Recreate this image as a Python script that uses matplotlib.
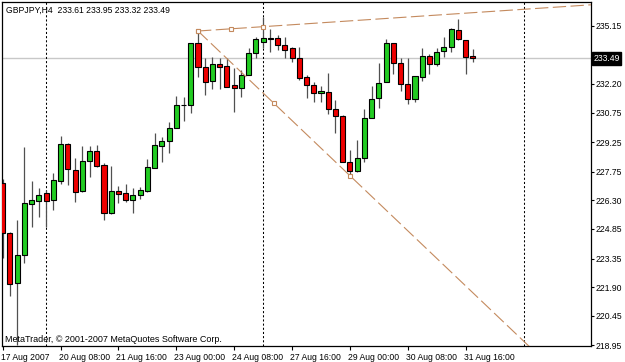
import matplotlib
matplotlib.use("Agg")
import matplotlib.pyplot as plt
import matplotlib.transforms as mtransforms

# GBPJPY H4 bars, 17 Aug 2007 00:00 .. 31 Aug 2007 20:00 (one entry per bar)
opens = [227.20, 224.63, 222.10, 223.53, 226.10, 226.27, 226.68, 226.32, 227.28, 229.14,
         227.84, 226.78, 228.30, 228.80, 228.09, 225.65, 226.79, 226.66, 226.32, 226.57,
         226.78, 227.93, 229.07, 229.32, 229.95, 231.13, 231.13, 234.26, 233.04, 232.36,
         233.20, 233.11, 232.15, 232.01, 232.65, 233.75, 234.34, 234.49, 234.51, 234.17,
         234.00, 233.49, 232.54, 232.15, 231.73, 231.78, 230.92, 230.59, 228.22, 227.79,
         228.45, 230.46, 231.47, 232.28, 234.26, 233.25, 232.18, 231.42, 232.54, 233.62,
         233.20, 233.87, 234.06, 234.93, 234.43, 233.61]
highs = [227.37, 224.70, 225.31, 229.02, 227.30, 226.94, 226.83, 227.67, 229.58, 229.22,
         228.43, 229.06, 229.06, 229.11, 228.18, 228.04, 227.03, 227.13, 226.91, 226.99,
         228.38, 229.70, 229.53, 230.27, 231.59, 231.55, 234.26, 234.88, 233.50, 233.55,
         233.53, 233.50, 232.99, 232.91, 234.01, 234.59, 235.57, 234.96, 234.68, 234.59,
         234.09, 234.09, 232.65, 232.31, 232.11, 232.74, 231.39, 230.63, 228.85, 229.36,
         230.93, 232.11, 233.25, 234.48, 234.26, 233.50, 233.50, 232.60, 234.04, 233.70,
         234.04, 234.59, 235.02, 235.49, 234.43, 233.95]
lows = [223.37, 221.47, 218.98, 223.14, 224.94, 225.44, 224.94, 225.81, 227.12, 227.08,
        226.23, 226.74, 227.50, 227.99, 225.31, 225.61, 226.15, 226.23, 225.68, 226.36,
        226.71, 227.93, 228.26, 228.69, 229.95, 230.32, 230.71, 232.57, 231.64, 231.94,
        231.94, 232.03, 230.79, 231.55, 232.65, 233.50, 234.01, 233.84, 233.92, 233.50,
        233.29, 232.40, 231.49, 231.27, 231.27, 230.66, 229.70, 228.23, 227.42, 227.74,
        228.22, 230.46, 231.00, 232.28, 232.69, 231.84, 231.17, 231.27, 232.35, 232.69,
        233.12, 233.58, 233.83, 234.43, 232.69, 233.32]
closes = [224.63, 222.07, 223.53, 226.18, 226.31, 226.56, 226.27, 227.33, 229.14, 227.88,
          226.74, 228.30, 228.80, 228.06, 225.65, 226.79, 226.64, 226.32, 226.56, 226.81,
          227.98, 229.11, 229.31, 229.95, 231.13, 231.12, 234.26, 233.04, 232.31, 233.20,
          233.07, 232.06, 232.01, 232.65, 233.75, 234.48, 234.51, 234.52, 234.15, 233.92,
          233.49, 232.49, 232.15, 231.73, 231.84, 230.92, 230.59, 228.23, 227.79, 228.47,
          230.46, 231.42, 232.23, 234.26, 233.25, 232.18, 231.42, 232.60, 233.62, 233.20,
          233.83, 234.06, 234.97, 234.48, 233.58, 233.49]

tick_bars = [0, 8, 16, 24, 32, 40, 48, 56, 64]
tick_labels = ["17 Aug 2007", "20 Aug 08:00", "21 Aug 16:00", "23 Aug 00:00",
               "24 Aug 08:00", "27 Aug 16:00", "29 Aug 00:00", "30 Aug 08:00",
               "31 Aug 16:00"]
price_ticks = [235.15, 232.20, 230.75, 229.25, 227.75, 226.30, 224.85,
               223.35, 221.90, 220.45, 218.95]
separators = [6, 36, 72]          # week separators (bar index)
last_price = 233.49
symbol_text = "GBPJPY,H4  233.61 233.95 233.32 233.49"
# trend lines, anchors as (bar, price)
upper_line = [(27, 234.88), (36, 235.10)]
lower_line = [(27, 234.88), (48, 227.55)]

XMIN, XMAX = -0.1, 81.33
YMIN, YMAX = 218.92, 236.35

plt.rcParams['font.family'] = ['Liberation Sans', 'DejaVu Sans']
FS = 6.2
LINE_COL = '#c48a5e'

fig = plt.figure(figsize=(6.25, 3.62), dpi=100)
ax = fig.add_axes([2 / 625, 16 / 362, 589 / 625, 344 / 362])
ax.set_xlim(XMIN, XMAX)
ax.set_ylim(YMIN, YMAX)

# bid line and separators
ax.axhline(last_price, color='#c8c8c8', lw=1, zorder=1)
for s in separators:
    ax.axvline(s, color='black', lw=0.75, ls=(0, (2, 2)), zorder=1)

# candles
x = list(range(len(opens)))
ax.vlines(x, lows, highs, color='#505050', lw=0.9, zorder=2)
up = [c >= o for o, c in zip(opens, closes)]
bottoms = [min(o, c) for o, c in zip(opens, closes)]
heights = [abs(c - o) for o, c in zip(opens, closes)]
colors = ['#22cc22' if u else '#ee0000' for u in up]
ax.bar(x, heights, bottom=bottoms, width=0.7, color=colors,
       edgecolor='black', linewidth=0.8, zorder=3)


def draw_ray(p0, p1):
    slope = (p1[1] - p0[1]) / (p1[0] - p0[0])
    xe = XMAX + 5
    ax.plot([p0[0], xe], [p0[1], p0[1] + slope * (xe - p0[0])],
            color=LINE_COL, lw=0.8, dashes=(12, 4), zorder=4)
    mid = ((p0[0] + p1[0]) / 2, (p0[1] + p1[1]) / 2)
    for px, py in [p0, mid, p1]:
        ax.plot(px, py, marker='s', ms=3.2, mfc='white', mec=LINE_COL,
                mew=0.8, zorder=5)


draw_ray(*upper_line)
draw_ray(*lower_line)

# axes / ticks
for sp in ax.spines.values():
    sp.set_color('black')
    sp.set_linewidth(0.9)
ax.yaxis.tick_right()
ax.set_yticks(price_ticks)
ax.set_yticklabels([f"{p:.2f}" for p in price_ticks], fontsize=FS)
ax.tick_params(axis='y', length=2, pad=1.5, width=0.8)
ax.set_xticks(tick_bars)
ax.set_xticklabels(tick_labels, fontsize=FS, ha='left')
ax.tick_params(axis='x', length=3, pad=2, width=0.8)
offset = mtransforms.ScaledTranslation(-2 / 100, 0, fig.dpi_scale_trans)
for lab in ax.get_xticklabels():
    lab.set_transform(lab.get_transform() + offset)

# texts
ax.text(0.0068, 0.977, symbol_text, transform=ax.transAxes, fontsize=FS,
        va='center', ha='left')
ax.text(0.005, 0.020, "MetaTrader, \u00a9 2001-2007 MetaQuotes Software Corp.",
        transform=ax.transAxes, fontsize=FS + 0.3, va='center', ha='left')
trans = mtransforms.blended_transform_factory(ax.transAxes, ax.transData)
ax.text(1.004, last_price, f"{last_price:.2f}", transform=trans, fontsize=FS,
        color='white', va='center', ha='left', clip_on=False, zorder=10,
        bbox=dict(boxstyle='square,pad=0.2', fc='black', ec='black'))

fig.savefig("out.png", dpi=100, facecolor='white')
